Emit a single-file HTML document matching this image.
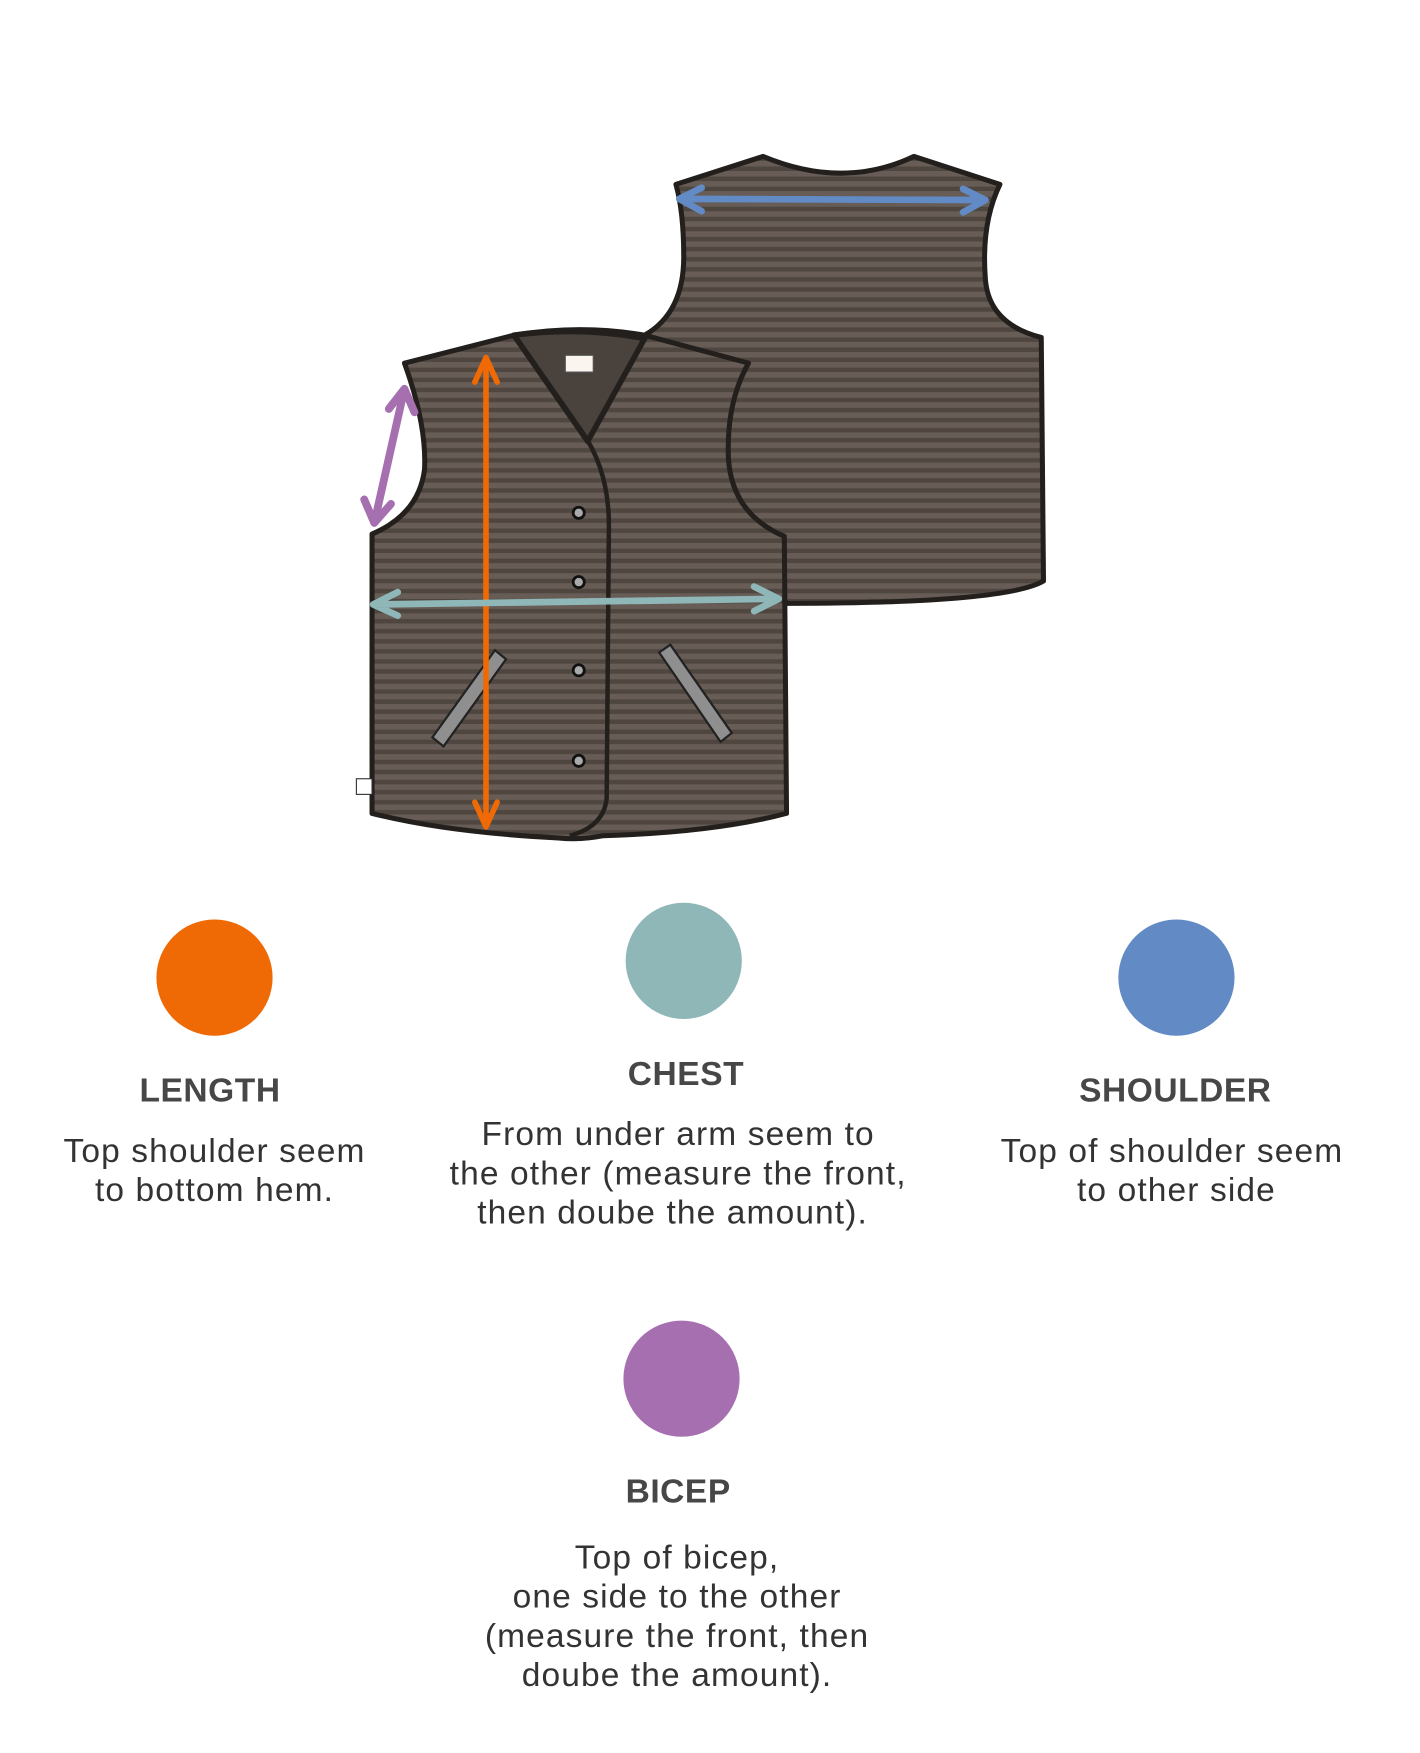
<!DOCTYPE html>
<html><head><meta charset="utf-8"><style>
html,body{margin:0;padding:0;background:#fff;}
svg{display:block}
text{font-family:"Liberation Sans",sans-serif;fill:#474747;text-anchor:middle}
.t{font-weight:bold;font-size:30px;letter-spacing:0.5px}
.b{font-size:30px;letter-spacing:1px;fill:#333}
</style></head><body>
<svg width="1420" height="1753" viewBox="0 0 1271 1569" xmlns="http://www.w3.org/2000/svg">
<defs>
<pattern id="st" width="9" height="9" patternUnits="userSpaceOnUse">
<rect width="9" height="9" fill="#675d56"/><rect y="5" width="9" height="4" fill="#4e463f"/>
</pattern>
</defs>
<path d="M605,165 L683,140 Q755,170 818,140 L895,165 Q878,200 882,250 Q885,290 932,302 L934,520 Q900,540 705,540 L600,460 L577,300 Q612,280 612,230 Q612,190 605,165 Z" fill="url(#st)" stroke="#231f1d" stroke-width="4.5" stroke-linejoin="round"/>
<path d="M362,325 L460,300 Q520,290 577,300 L670,325 Q650,360 652,410 Q655,460 702,480 L704,728 Q640,745 540,748 Q520,752 500,750 Q400,745 333,728 L333,478 Q375,460 380,420 Q382,380 362,325 Z" fill="url(#st)" stroke="#231f1d" stroke-width="4.5" stroke-linejoin="round"/>
<path d="M460,300 Q520,292 577,303 L526,395 Z" fill="#4a423c" stroke="#231f1d" stroke-width="5" stroke-linejoin="round"/>
<rect x="506" y="318" width="25" height="15" fill="#fbf5ef" stroke="#555" stroke-width="1"/>
<path d="M462,302 L520,385 Q545,420 545,470 L543,715 Q540,740 510,748" fill="none" stroke="#231f1d" stroke-width="4"/>
<g fill="#aaa" stroke="#111" stroke-width="2.5">
<circle cx="518" cy="459" r="5"/><circle cx="518" cy="521" r="5"/><circle cx="518" cy="600" r="5"/><circle cx="518" cy="681" r="5"/>
</g>
<g fill="#8f8f8f" stroke="#222" stroke-width="2">
<polygon points="443,582 453,590 397,668 387,660"/>
<polygon points="600,577 590,584 645,664 655,656"/>
</g>
<rect x="319" y="697" width="14" height="14" fill="#fff" stroke="#333" stroke-width="1"/>
<g fill="none" stroke-linecap="round" stroke-linejoin="round">
<g stroke="#ef6a05" stroke-width="5"><path d="M435,320 L435,740 M425,342 L435,320 L445,342 M425,718 L435,740 L445,718"/></g>
<g stroke="#8fb7b8" stroke-width="6"><path d="M334,541 L697,536 M356,530 L334,541 L356,551 M675,525 L697,536 L675,547"/></g>
<g stroke="#628bc6" stroke-width="6"><path d="M608,178 L882,179 M628,168 L608,178 L628,189 M862,169 L882,179 L862,190"/></g>
<g stroke="#a66fb0" stroke-width="7"><path d="M362,348 L335,468 M348,366 L362,348 L371,369 M326,447 L335,468 L350,451"/></g>
</g>
<circle cx="192" cy="875" r="52" fill="#ef6a05"/>
<circle cx="612" cy="860" r="52" fill="#8fb7b8"/>
<circle cx="1053" cy="875" r="52" fill="#628bc6"/>
<circle cx="610" cy="1234" r="52" fill="#a66fb0"/>
<text class="t" x="188" y="986">LENGTH</text>
<text class="b" x="192" y="1040">Top shoulder seem</text>
<text class="b" x="192" y="1075">to bottom hem.</text>
<text class="t" x="614" y="971">CHEST</text>
<text class="b" x="607" y="1025">From under arm seem to</text>
<text class="b" x="607" y="1060">the other (measure the front,</text>
<text class="b" x="602" y="1095">then doube the amount).</text>
<text class="t" x="1052" y="986">SHOULDER</text>
<text class="b" x="1049" y="1040">Top of shoulder seem</text>
<text class="b" x="1053" y="1075">to other side</text>
<text class="t" x="607" y="1345">BICEP</text>
<text class="b" x="606" y="1404">Top of bicep,</text>
<text class="b" x="606" y="1439">one side to the other</text>
<text class="b" x="606" y="1474">(measure the front, then</text>
<text class="b" x="606" y="1509">doube the amount).</text>
</svg>
</body></html>
